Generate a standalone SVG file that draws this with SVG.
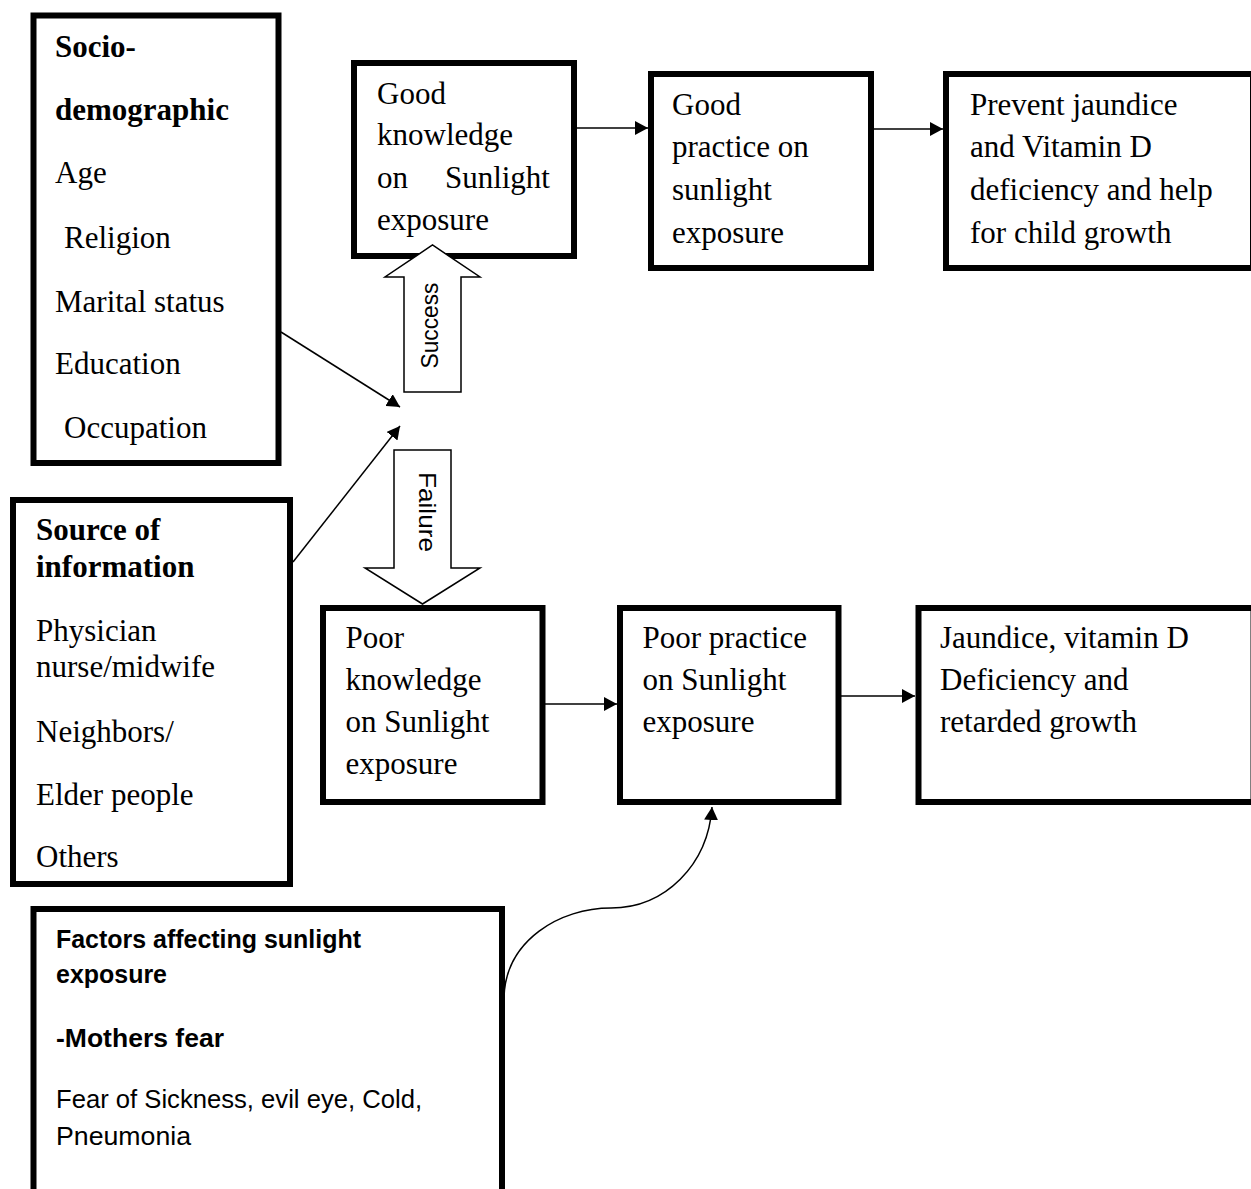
<svg xmlns="http://www.w3.org/2000/svg" width="1251" height="1189" viewBox="0 0 1251 1189">
<style>
.box{fill:#fff;stroke:#000;stroke-width:6}
.t{font-family:"Liberation Serif","Times New Roman",serif;font-size:31px;fill:#000}
.b{font-weight:bold}
.s{font-family:"Liberation Sans Narrow","Liberation Sans",Arial,sans-serif;font-size:25px;fill:#000}
.blk{fill:#fff;stroke:#000;stroke-width:1.5;stroke-linejoin:miter}
.lbl{font-family:"Liberation Sans",Arial,sans-serif;font-size:24px;fill:#000}
.c{fill:none;stroke:#000;stroke-width:1.5}
</style>
<defs>
<marker id="ah" viewBox="0 0 13 14" refX="13" refY="7" markerWidth="13" markerHeight="14" markerUnits="userSpaceOnUse" orient="auto">
<path d="M0,0 L13,7 L0,14 z" fill="#000"/>
</marker>
</defs>
<rect width="1251" height="1189" fill="#fff"/>

<g id="socio">
<rect class="box" x="33.5" y="15.5" width="245" height="447.5"/>
<text class="t b" x="55" y="57">Socio-</text>
<text class="t b" x="55" y="120">demographic</text>
<text class="t" x="55" y="183">Age</text>
<text class="t" x="64" y="248">Religion</text>
<text class="t" x="55" y="312">Marital status</text>
<text class="t" x="55" y="374">Education</text>
<text class="t" x="64" y="438">Occupation</text>
</g>

<g id="good-knowledge">
<rect class="box" x="354" y="63" width="220" height="193"/>
<text class="t" x="377" y="104">Good</text>
<text class="t" x="377" y="145">knowledge</text>
<text class="t" x="377" y="188">on</text>
<text class="t" x="550" y="188" text-anchor="end">Sunlight</text>
<text class="t" x="377" y="230">exposure</text>
</g>

<g id="good-practice">
<rect class="box" x="651" y="74" width="220" height="194"/>
<text class="t" x="672" y="115">Good</text>
<text class="t" x="672" y="157">practice on</text>
<text class="t" x="672" y="200">sunlight</text>
<text class="t" x="672" y="243">exposure</text>
</g>

<g id="prevent">
<rect class="box" x="946" y="74" width="307" height="194"/>
<text class="t" x="970" y="115">Prevent jaundice</text>
<text class="t" x="970" y="157">and Vitamin D</text>
<text class="t" x="970" y="200">deficiency and help</text>
<text class="t" x="970" y="243">for child growth</text>
</g>

<g id="source">
<rect class="box" x="13" y="500" width="277" height="384"/>
<text class="t b" x="36" y="540">Source of</text>
<text class="t b" x="36" y="577">information</text>
<text class="t" x="36" y="641">Physician</text>
<text class="t" x="36" y="677">nurse/midwife</text>
<text class="t" x="36" y="742">Neighbors/</text>
<text class="t" x="36" y="805">Elder people</text>
<text class="t" x="36" y="867">Others</text>
</g>

<g id="poor-knowledge">
<rect class="box" x="323" y="608" width="219.5" height="194"/>
<text class="t" x="345.5" y="648">Poor</text>
<text class="t" x="345.5" y="690">knowledge</text>
<text class="t" x="345.5" y="732">on Sunlight</text>
<text class="t" x="345.5" y="774">exposure</text>
</g>

<g id="poor-practice">
<rect class="box" x="620" y="608" width="218.5" height="194"/>
<text class="t" x="642.5" y="648">Poor practice</text>
<text class="t" x="642.5" y="690">on Sunlight</text>
<text class="t" x="642.5" y="732">exposure</text>
</g>

<g id="jaundice">
<rect class="box" x="918.5" y="608" width="335" height="194"/>
<text class="t" x="940" y="648">Jaundice, vitamin D</text>
<text class="t" x="940" y="690">Deficiency and</text>
<text class="t" x="940" y="732">retarded growth</text>
</g>

<g id="factors">
<rect class="box" x="33.5" y="909" width="468.5" height="300"/>
<text class="s b" x="56" y="948" textLength="305" lengthAdjust="spacingAndGlyphs">Factors affecting sunlight</text>
<text class="s b" x="56" y="983" textLength="111" lengthAdjust="spacingAndGlyphs">exposure</text>
<text class="s b" x="56" y="1047" textLength="168" lengthAdjust="spacingAndGlyphs">-Mothers fear</text>
<text class="s" x="56" y="1108" textLength="366" lengthAdjust="spacingAndGlyphs">Fear of Sickness, evil eye, Cold,</text>
<text class="s" x="56" y="1145" textLength="135" lengthAdjust="spacingAndGlyphs">Pneumonia</text>
</g>

<g id="success">
<polygon class="blk" points="404,392 461,392 461,277 480,277 432.5,245 385,277 404,277"/>
<text class="lbl" transform="translate(438,325.5) rotate(-90)" text-anchor="middle" textLength="86" lengthAdjust="spacingAndGlyphs">Success</text>
</g>

<g id="failure">
<polygon class="blk" points="394,450 451,450 451,568 480,568 422.5,604 365,568 394,568"/>
<text class="lbl" transform="translate(419,512) rotate(90)" text-anchor="middle" textLength="80" lengthAdjust="spacingAndGlyphs">Failure</text>
</g>

<g id="connectors">
<line class="c" x1="577" y1="128" x2="648" y2="128" marker-end="url(#ah)"/>
<line class="c" x1="874" y1="129" x2="943" y2="129" marker-end="url(#ah)"/>
<line class="c" x1="545" y1="704" x2="617" y2="704" marker-end="url(#ah)"/>
<line class="c" x1="841" y1="696" x2="915" y2="696" marker-end="url(#ah)"/>
<line class="c" x1="281" y1="332" x2="400" y2="407" marker-end="url(#ah)"/>
<line class="c" x1="293" y1="562" x2="400" y2="426" marker-end="url(#ah)"/>
<path class="c" d="M504,997 C506,940 560,908 611,908 C665,908 708,865 712,807" marker-end="url(#ah)"/>
</g>
</svg>
